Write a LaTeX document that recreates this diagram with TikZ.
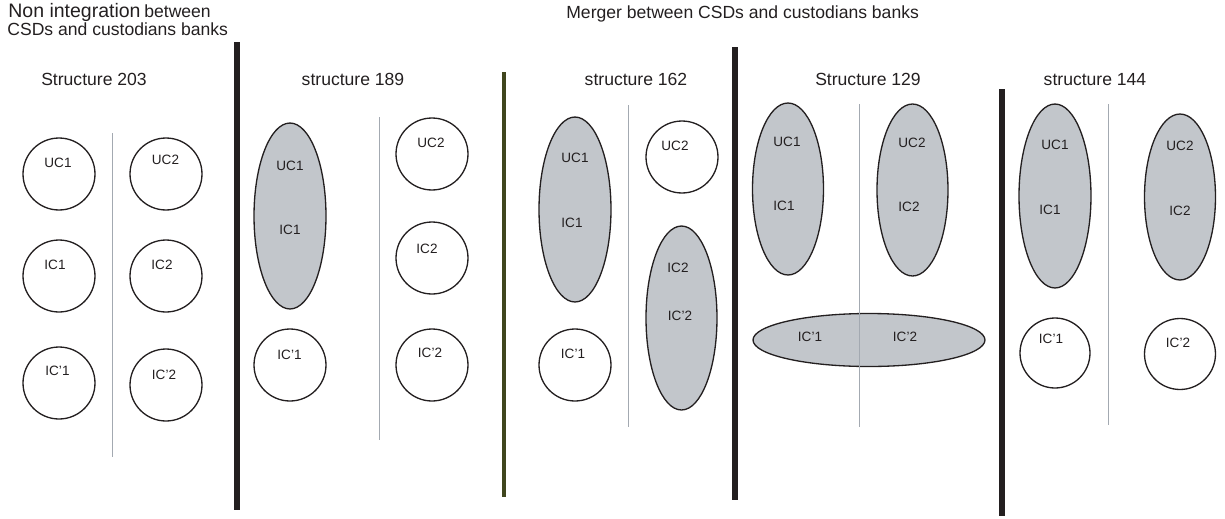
\documentclass[tikz,border=0pt]{standalone}
\usepackage{fontspec}
\setmainfont{Liberation Sans}
\usetikzlibrary{shapes.geometric}
\definecolor{StructInk}{HTML}{231F20}
\definecolor{StructFill}{HTML}{C2C6CB}
\definecolor{StructRule}{HTML}{A3A9B1}
\definecolor{StructOlive}{HTML}{40461E}

\begin{document}
\begin{tikzpicture}[
    x=0.02cm,y=-0.02cm,
    unit/.style={circle,draw=StructInk,line width=0.75pt,minimum size=1.44cm,inner sep=0pt},
    merged/.style={ellipse,draw=StructInk,line width=0.75pt,fill=StructFill,inner sep=0pt},
    tag/.style={font=\fontsize{7.7}{9}\selectfont,text=StructInk,inner sep=0pt},
    heading/.style={font=\fontsize{10}{12}\selectfont,text=StructInk,anchor=base,inner sep=0pt},
    divider/.style={draw=StructRule,line width=0.5pt},
    wall/.style={draw=StructInk,line width=2.9pt}
  ]
  \useasboundingbox (0,0) rectangle (1225,518);

  % headings
  \node[heading,anchor=base west,font=\fontsize{11.1}{13}\selectfont] (nonint) at (8,17) {Non integration};
  \node[heading,anchor=base west] (nonbtw) at (144,17) {between};
  \node[heading,anchor=base west] (noncsd) at (7,35) {CSDs and custodians banks};
  \node[heading,anchor=base west] (merger) at (566,18) {Merger between CSDs and custodians banks};
  \node[heading] (t203) at (94,85.5) {Structure 203};
  \node[heading] (t189) at (353,85.5) {structure 189};
  \node[heading] (t162) at (636,85.5) {structure 162};
  \node[heading] (t129) at (868,85.5) {Structure 129};
  \node[heading] (t144) at (1095,85.5) {structure 144};

  % walls between the structures
  \draw[wall] (237,42) -- (237,510);
  \draw[wall,draw=StructOlive,line width=2.3pt] (504,72) -- (504,497);
  \draw[wall] (735,47) -- (735,500);
  \draw[wall] (1002,89) -- (1002,516);

  % structure 203
  \node[unit] (a-uc1) at (59,174) {};
  \node[unit] (a-uc2) at (166,174) {};
  \node[unit] (a-ic1) at (59,276) {};
  \node[unit] (a-ic2) at (166,276) {};
  \node[unit] (a-icp1) at (59,383) {};
  \node[unit] (a-icp2) at (166,385) {};
  \node[tag] (a-uc1-t) at (58,163) {UC1};
  \node[tag] (a-uc2-t) at (165.5,160) {UC2};
  \node[tag] (a-ic1-t) at (55,265) {IC1};
  \node[tag] (a-ic2-t) at (162,265) {IC2};
  \node[tag] (a-icp1-t) at (57.5,371) {IC'1};
  \node[tag] (a-icp2-t) at (164,375) {IC'2};

  % structure 189
  \node[merged,minimum width=1.44cm,minimum height=3.72cm] (b-c1) at (290,216) {};
  \node[unit] (b-uc2) at (432,154) {};
  \node[unit] (b-ic2) at (432,258) {};
  \node[unit] (b-icp1) at (290,365) {};
  \node[unit] (b-icp2) at (432,365) {};
  \node[tag] (b-uc1-t) at (290,166) {UC1};
  \node[tag] (b-ic1-t) at (290,230) {IC1};
  \node[tag] (b-uc2-t) at (431,143) {UC2};
  \node[tag] (b-ic2-t) at (427,249) {IC2};
  \node[tag] (b-icp1-t) at (289.5,355) {IC'1};
  \node[tag] (b-icp2-t) at (430,353) {IC'2};

  % structure 162
  \node[merged,minimum width=1.44cm,minimum height=3.7cm] (c-c1) at (575,209.5) {};
  \node[merged,minimum width=1.42cm,minimum height=3.68cm] (c-c2) at (681.5,318) {};
  \node[unit] (c-uc2) at (682,157) {};
  \node[unit] (c-icp1) at (575,365) {};
  \node[tag] (c-uc1-t) at (575,158) {UC1};
  \node[tag] (c-ic1-t) at (572,223) {IC1};
  \node[tag] (c-uc2-t) at (675,146) {UC2};
  \node[tag] (c-ic2-t) at (678,268) {IC2};
  \node[tag] (c-icp2-t) at (680,316) {IC'2};
  \node[tag] (c-icp1-t) at (573,354) {IC'1};

  % structure 129
  \node[merged,minimum width=1.42cm,minimum height=3.44cm] (d-c1) at (788,189) {};
  \node[merged,minimum width=1.42cm,minimum height=3.44cm] (d-c2) at (912.5,190) {};
  \node[merged,minimum width=4.64cm,minimum height=1.06cm] (d-cp) at (869,340) {};
  \node[tag] (d-uc1-t) at (787,142) {UC1};
  \node[tag] (d-ic1-t) at (784,206) {IC1};
  \node[tag] (d-uc2-t) at (912,143) {UC2};
  \node[tag] (d-ic2-t) at (909,207) {IC2};
  \node[tag] (d-icp1-t) at (810,337) {IC'1};
  \node[tag] (d-icp2-t) at (905,337) {IC'2};

  % structure 144
  \node[merged,minimum width=1.44cm,minimum height=3.68cm] (e-c1) at (1055,196) {};
  \node[merged,minimum width=1.42cm,minimum height=3.32cm] (e-c2) at (1180,197) {};
  \node[unit,minimum size=1.4cm] (e-icp1) at (1055,353) {};
  \node[unit,minimum size=1.42cm] (e-icp2) at (1180,354) {};
  \node[tag] (e-uc1-t) at (1055,145) {UC1};
  \node[tag] (e-ic1-t) at (1050,210) {IC1};
  \node[tag] (e-uc2-t) at (1180,146) {UC2};
  \node[tag] (e-ic2-t) at (1180,211) {IC2};
  \node[tag] (e-icp1-t) at (1051,339) {IC'1};
  \node[tag] (e-icp2-t) at (1178,343) {IC'2};

  % dividers inside each structure
  \draw[divider] (112,133) -- (112,457);
  \draw[divider] (379,117) -- (379,440);
  \draw[divider] (628,105) -- (628,427);
  \draw[divider] (859,104) -- (859,427);
  \draw[divider] (1108,104) -- (1108,425);
\end{tikzpicture}
\end{document}
